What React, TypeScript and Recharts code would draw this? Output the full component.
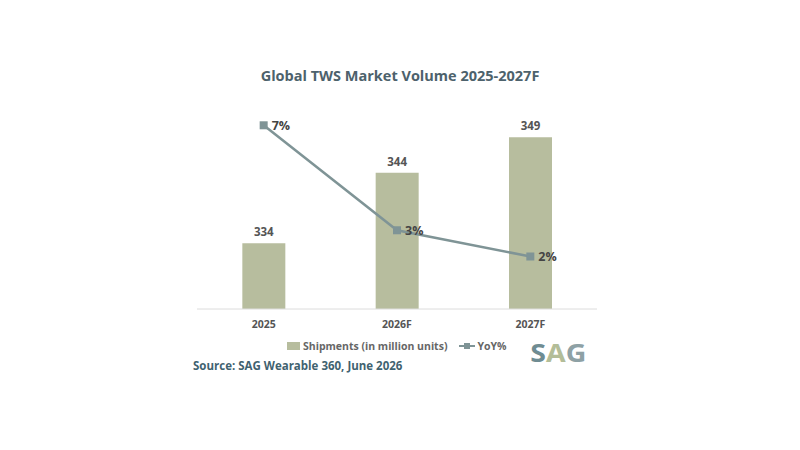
import React from "react";
import { ComposedChart, Bar, Line, XAxis, YAxis, LabelList } from "recharts";

const years = ["2025", "2026F", "2027F"];
const shipments = [334, 344, 349];
const yoy = [7, 3, 2];

const data = years.map((year, i) => ({ year, shipments: shipments[i], yoy: yoy[i] }));

const BAR_COLOR = "#b7bd9e";
const LINE_COLOR = "#7f9496";
const FONT = "'Open Sans', 'Noto Sans', sans-serif";

const SquareDot = (props: any) => {
  const { cx, cy } = props;
  if (cx == null || cy == null) return null;
  return <rect x={cx - 4} y={cy - 4} width={8} height={8} fill={LINE_COLOR} />;
};

// legend drawn outside the chart so it doesn't shrink the plot area
const LegendBox = () => (
  <div style={{ position: "absolute", left: 287, top: 339, display: "flex", alignItems: "center", fontFamily: FONT, fontSize: 10.5, fontWeight: 700, color: "#666" }}>
    <span style={{ display: "inline-block", width: 13, height: 8, background: BAR_COLOR, marginRight: 3 }} />
    <span>Shipments (in million units)</span>
    <svg width={18} height={10} style={{ marginLeft: 11, marginRight: 1 }}>
      <line x1={1} y1={5} x2={17} y2={5} stroke={LINE_COLOR} strokeWidth={2} />
      <rect x={6} y={2} width={6} height={6} fill={LINE_COLOR} />
    </svg>
    <span>YoY%</span>
  </div>
);

export default function App() {
  return (
    <div style={{ position: "absolute", left: 0, top: 0, width: 800, height: 450, background: "#fff", fontFamily: FONT }}>
      <div style={{ position: "absolute", left: 0, width: 800, top: 66, textAlign: "center", fontSize: 14.5, fontWeight: 700, color: "#4d626c" }}>
        Global TWS Market Volume 2025-2027F
      </div>
      <ComposedChart width={800} height={450} data={data} margin={{ top: 114, right: 203, bottom: 111, left: 197 }} barCategoryGap="34%">
        <XAxis
          dataKey="year"
          height={30}
          axisLine={{ stroke: "#dcdcdc" }}
          tickLine={false}
          tick={{ fontSize: 10.5, fontWeight: 700, fill: "#555", fontFamily: FONT }}
          tickMargin={6}
        />
        <YAxis yAxisId="left" hide domain={[324.7, 352.3]} />
        <YAxis yAxisId="right" hide orientation="right" domain={[0, 7.43]} />
        <Bar yAxisId="left" dataKey="shipments" fill={BAR_COLOR} isAnimationActive={false}>
          <LabelList dataKey="shipments" position="top" offset={7} style={{ fontSize: 11.5, fontWeight: 700, fill: "#555", fontFamily: FONT }} />
        </Bar>
        <Line
          yAxisId="right"
          dataKey="yoy"
          stroke={LINE_COLOR}
          strokeWidth={2.5}
          dot={<SquareDot />}
          activeDot={false}
          isAnimationActive={false}
        >
          <LabelList
            dataKey="yoy"
            position="right"
            offset={8}
            formatter={(v: any) => `${v}%`}
            style={{ fontSize: 12.5, fontWeight: 700, fill: "#444", fontFamily: FONT }}
          />
        </Line>
      </ComposedChart>
      <LegendBox />
      <div style={{ position: "absolute", left: 193, top: 358, fontSize: 11.5, fontWeight: 700, color: "#3f6270" }}>
        Source: SAG Wearable 360, June 2026
      </div>
      <svg width={70} height={34} style={{ position: "absolute", left: 528, top: 334 }}>
        <text x={2} y={28} fontFamily={FONT} fontSize={25} fontWeight={700} transform="scale(1.14,1)">
          <tspan fill="#6f8c92">S</tspan>
          <tspan fill="#b3bd98">A</tspan>
          <tspan fill="#8ea1a5">G</tspan>
        </text>
      </svg>
    </div>
  );
}
